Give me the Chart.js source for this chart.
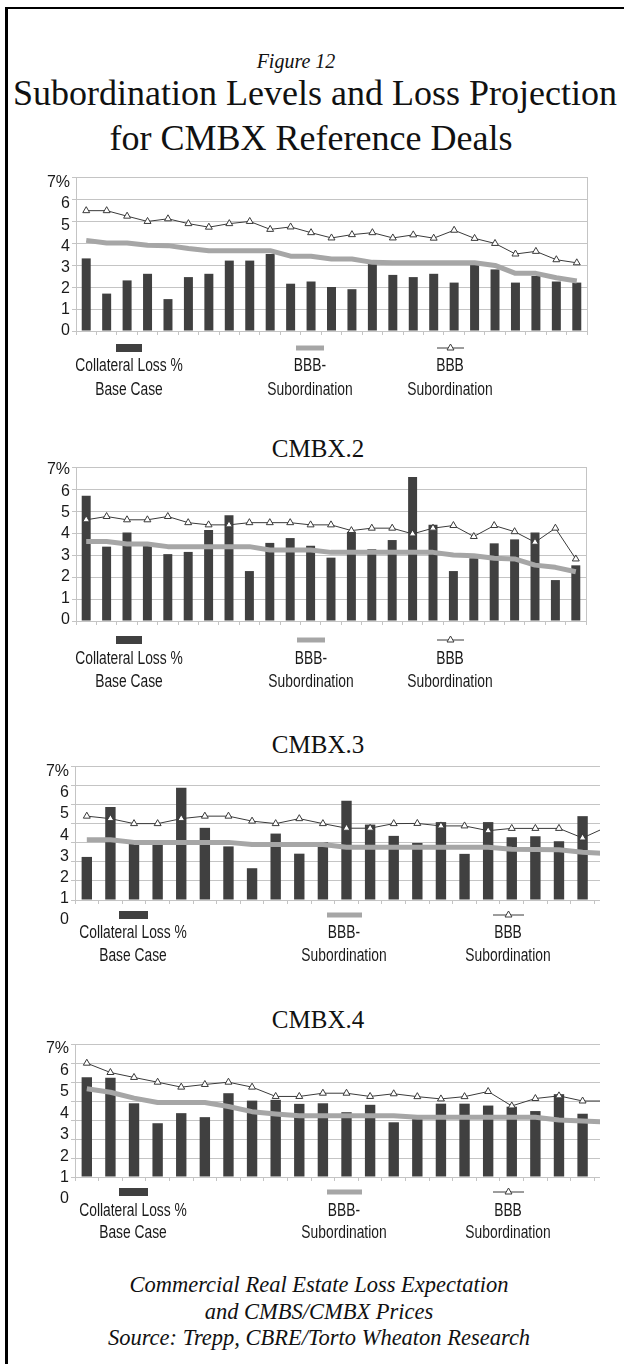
<!DOCTYPE html>
<html lang="en">
<head>
<meta charset="utf-8">
<title>Subordination Levels and Loss Projection for CMBX Reference Deals</title>
<script src="https://cdn.jsdelivr.net/npm/chart.js@4.4.1/dist/chart.umd.min.js"></script>
<style>
  html, body { margin: 0; padding: 0; background: #fff; }
  #page { position: relative; width: 624px; height: 1364px; overflow: hidden; background: #fff; }
  .rule-top { position: absolute; left: 5px; top: 7px; width: 619px; height: 2px; background: #000; }
  .rule-left { position: absolute; left: 5px; top: 7px; width: 3px; height: 1357px; background: #000; }
  .line { position: absolute; white-space: nowrap; line-height: 1; color: #111; text-align: center; transform-origin: 50% 50%; }
  .serif { font-family: 'Liberation Serif', 'DejaVu Serif', serif; }
  .it { font-style: italic; }
  .cond { font-family: 'Liberation Sans', 'DejaVu Sans', sans-serif; color: #1a1a1a; transform: scaleX(0.79); }
</style>
</head>
<body>
<div id="page">
  <div class="rule-top"></div>
  <div class="rule-left"></div>
</div>
<script>
// ---- deals (x categories, not drawn as labels) ----
const deals25 = ['1','2','3','4','5','6','7','8','9','10','11','12','13','14','15','16','17','18','19','20','21','22','23','24','25'];
const deals23 = ['1','2','3','4','5','6','7','8','9','10','11','12','13','14','15','16','17','18','19','20','21','22','23'];

// ---- series names (legend, two lines each) ----
const lossName = ['Collateral Loss %', 'Base Case'];
const bbbMinusName = ['BBB-', 'Subordination'];
const bbbName = ['BBB', 'Subordination'];

// ---- y axis ticks ----
const yTickValues = [0, 1, 2, 3, 4, 5, 6, 7];
const yTickLabels = ['0', '1', '2', '3', '4', '5', '6', '7%'];

// ---- CMBX.1 ----
const cmbx1Loss = [3.3, 1.7, 2.3, 2.6, 1.45, 2.45, 2.6, 3.2, 3.2, 3.5, 2.15, 2.25, 2.0, 1.9, 3.05, 2.55, 2.45, 2.6, 2.2, 3.0, 2.8, 2.2, 2.5, 2.25, 2.2];
const cmbx1BBBm = [4.12, 4.0, 4.0, 3.9, 3.88, 3.75, 3.65, 3.65, 3.65, 3.65, 3.4, 3.4, 3.27, 3.27, 3.12, 3.1, 3.1, 3.1, 3.1, 3.1, 2.98, 2.62, 2.62, 2.42, 2.27];
const cmbx1BBB = [5.47, 5.47, 5.22, 4.98, 5.1, 4.88, 4.72, 4.88, 4.98, 4.62, 4.73, 4.47, 4.23, 4.38, 4.47, 4.23, 4.37, 4.22, 4.58, 4.21, 3.98, 3.5, 3.62, 3.24, 3.1];

// ---- CMBX.2 ----
const cmbx2Loss = [5.69, 3.38, 4.02, 3.56, 3.04, 3.14, 4.14, 4.81, 2.27, 3.55, 3.77, 3.42, 2.88, 4.06, 3.26, 3.68, 6.54, 4.37, 2.27, 2.85, 3.53, 3.71, 4.02, 1.86, 2.53];
const cmbx2BBBm = [3.61, 3.61, 3.5, 3.5, 3.38, 3.38, 3.38, 3.38, 3.38, 3.23, 3.23, 3.23, 3.12, 3.12, 3.12, 3.12, 3.12, 3.12, 3.0, 2.97, 2.85, 2.82, 2.54, 2.44, 2.24];
const cmbx2BBB = [4.6, 4.75, 4.6, 4.6, 4.75, 4.47, 4.37, 4.37, 4.47, 4.47, 4.47, 4.37, 4.37, 4.11, 4.22, 4.22, 3.96, 4.22, 4.34, 3.84, 4.34, 4.06, 3.58, 4.22, 2.82];

// ---- CMBX.3 ----
const cmbx3Loss = [2.25, 4.86, 2.97, 2.97, 5.86, 3.77, 2.8, 1.66, 3.47, 2.42, 3.03, 5.18, 3.94, 3.35, 2.98, 4.07, 2.41, 4.07, 3.28, 3.33, 3.07, 4.38, null];
const cmbx3BBBm = [3.15, 3.15, 3.01, 3.01, 3.01, 3.01, 3.01, 2.9, 2.9, 2.9, 2.9, 2.76, 2.76, 2.76, 2.76, 2.76, 2.76, 2.76, 2.65, 2.64, 2.62, 2.5, 2.43];
const cmbx3BBB = [4.38, 4.25, 3.99, 3.99, 4.25, 4.38, 4.38, 4.12, 3.99, 4.25, 3.99, 3.75, 3.75, 3.99, 4.0, 3.87, 3.87, 3.62, 3.74, 3.74, 3.74, 3.24, 3.8];

// ---- CMBX.4 ----
const cmbx4Loss = [5.25, 5.22, 3.88, 2.83, 3.36, 3.15, 4.41, 4.02, 4.06, 3.85, 3.88, 3.41, 3.8, 2.88, 3.1, 3.86, 3.86, 3.76, 3.7, 3.47, 4.36, 3.33, null];
const cmbx4BBBm = [4.64, 4.46, 4.15, 3.92, 3.92, 3.92, 3.71, 3.44, 3.32, 3.22, 3.22, 3.22, 3.22, 3.22, 3.15, 3.15, 3.15, 3.15, 3.15, 3.15, 3.0, 2.95, 2.9];
const cmbx4BBB = [5.99, 5.5, 5.24, 4.99, 4.73, 4.87, 4.99, 4.73, 4.24, 4.24, 4.41, 4.41, 4.24, 4.38, 4.23, 4.11, 4.23, 4.5, 3.74, 4.13, 4.27, 4.0, 4.0];

// ---- styling ----
const GRID = '#c4c4c4';
const BAR = '#404040';
const BBBM_COLOR = '#a6a6a6';
const BBB_COLOR = '#3a3a3a';
const TEXT = '#1a1a1a';
const SANS = "'Liberation Sans', 'DejaVu Sans', sans-serif";
const SERIF_BASE = 0.838;   // baseline offset (em) of Liberation Serif at line-height 1
const SANS_BASE = 0.847;    // same for Liberation Sans

const page = document.getElementById('page');

function addText(text, cx, baseline, size, cls, ratio) {
  const d = document.createElement('div');
  d.className = 'line ' + cls;
  d.textContent = text;
  d.style.fontSize = size + 'px';
  d.style.width = '600px';
  d.style.left = (cx - 300) + 'px';
  d.style.top = (baseline - ratio * size) + 'px';
  page.appendChild(d);
  return d;
}

// headings
addText('Figure 12', 296, 68, 20, 'serif it', SERIF_BASE);
addText('Subordination Levels and Loss Projection', 313, 105, 36, 'serif', SERIF_BASE);
addText('for CMBX Reference Deals', 311, 150, 36, 'serif', SERIF_BASE);
addText('CMBX.2', 318, 457, 25, 'serif', SERIF_BASE);
addText('CMBX.3', 318, 753, 25, 'serif', SERIF_BASE);
addText('CMBX.4', 318, 1028, 25, 'serif', SERIF_BASE);
addText('Commercial Real Estate Loss Expectation', 319, 1293, 22.5, 'serif it', SERIF_BASE);
addText('and CMBS/CMBX Prices', 319, 1320, 22.5, 'serif it', SERIF_BASE);
addText('Source: Trepp, CBRE/Torto Wheaton Research', 319, 1346, 22.5, 'serif it', SERIF_BASE);

// per-panel placement
const panels = [
  { labels: deals25, loss: cmbx1Loss, bbbm: cmbx1BBBm, bbb: cmbx1BBB,
    boxTop: 160, boxH: 190, clip: 624, areaTop: 177, areaBottom: 331, areaLeft: 76, areaRight: 587,
    label0: 330.5, label7: 183, legendX: [129, 310, 450], markerW: [26, 28, 27], markerY: 348, textBase: [372, 396] },
  { labels: deals25, loss: cmbx2Loss, bbbm: cmbx2BBBm, bbb: cmbx2BBB,
    boxTop: 450, boxH: 190, clip: 624, areaTop: 467, areaBottom: 621, areaLeft: 76, areaRight: 586,
    label0: 619.5, label7: 470, legendX: [129, 311, 450], markerW: [26, 28, 27], markerY: 640, textBase: [665, 688] },
  { labels: deals23, loss: cmbx3Loss, bbbm: cmbx3BBBm, bbb: cmbx3BBB,
    boxTop: 750, boxH: 190, clip: 600, areaTop: 766, areaBottom: 900, areaLeft: 75, areaRight: 618,
    label0: 920, label7: 771.5, legendX: [133, 344, 508], markerW: [29, 35, 31], markerY: 915, textBase: [939, 962] },
  { labels: deals23, loss: cmbx4Loss, bbbm: cmbx4BBBm, bbb: cmbx4BBB,
    boxTop: 1028, boxH: 190, clip: 600, areaTop: 1044, areaBottom: 1177, areaLeft: 75, areaRight: 618,
    label0: 1199, label7: 1049, legendX: [133, 344, 508], markerW: [29, 35, 31], markerY: 1192, textBase: [1217, 1239] }
];

function buildLegend(chart, P) {
  const NS = 'http://www.w3.org/2000/svg';
  // bars first, then BBB-, then BBB
  const order = [2, 1, 0];
  order.forEach((di, k) => {
    const ds = chart.data.datasets[di];
    const cx = P.legendX[k];
    const w = P.markerW[k];
    const svg = document.createElementNS(NS, 'svg');
    svg.setAttribute('width', w + 12);
    svg.setAttribute('height', 16);
    svg.style.cssText = `position:absolute;left:${cx - (w + 12) / 2}px;top:${P.markerY - 8}px;overflow:visible;`;
    const x0 = 6, x1 = 6 + w, ym = 8;
    if (ds.type === 'bar') {
      const r = document.createElementNS(NS, 'rect');
      r.setAttribute('x', x0); r.setAttribute('y', ym - 4);
      r.setAttribute('width', w); r.setAttribute('height', 8);
      r.setAttribute('fill', ds.backgroundColor);
      svg.appendChild(r);
    } else {
      const l = document.createElementNS(NS, 'line');
      l.setAttribute('x1', x0); l.setAttribute('x2', x1);
      l.setAttribute('y1', ym); l.setAttribute('y2', ym);
      l.setAttribute('stroke', ds.borderColor);
      l.setAttribute('stroke-width', ds.borderWidth);
      svg.appendChild(l);
      if (ds.pointRadius > 0) {
        const c = (x0 + x1) / 2, r = ds.pointRadius;
        const t = document.createElementNS(NS, 'polygon');
        t.setAttribute('points', `${c},${ym - r} ${c - r * 0.866},${ym + r * 0.5} ${c + r * 0.866},${ym + r * 0.5}`);
        t.setAttribute('fill', ds.pointBackgroundColor);
        t.setAttribute('stroke', ds.pointBorderColor);
        t.setAttribute('stroke-width', ds.pointBorderWidth);
        svg.appendChild(t);
      }
    }
    page.appendChild(svg);
    ds.label.forEach((txt, li) => {
      addText(txt, cx, P.textBase[li], 17.5, 'cond', SANS_BASE);
    });
  });
}

panels.forEach(P => {
  const wrap = document.createElement('div');
  wrap.style.cssText = `position:absolute;left:0;top:${P.boxTop}px;width:${P.clip}px;height:${P.boxH}px;overflow:hidden;`;
  const canvas = document.createElement('canvas');
  canvas.width = 624;
  canvas.height = P.boxH;
  canvas.style.cssText = `position:absolute;left:0;top:0;width:624px;height:${P.boxH}px;`;
  wrap.appendChild(canvas);
  page.appendChild(wrap);

  // the tick-label axis is laid over the same chart area; its range puts
  // each label at the printed height
  const areaH = P.areaBottom - P.areaTop;
  const range = 7 * areaH / (P.label0 - P.label7);
  const lMin = (P.label0 - P.areaBottom) * range / areaH;

  const chart = new Chart(canvas, {
    type: 'bar',
    data: {
      labels: P.labels,
      datasets: [
        { type: 'line', label: bbbName, data: P.bbb, borderColor: BBB_COLOR, borderWidth: 1,
          pointStyle: 'triangle', pointRadius: 4, pointBackgroundColor: '#ffffff',
          pointBorderColor: BBB_COLOR, pointBorderWidth: 1, tension: 0, order: 0 },
        { type: 'line', label: bbbMinusName, data: P.bbbm, borderColor: BBBM_COLOR, borderWidth: 5,
          pointRadius: 0, tension: 0, borderJoinStyle: 'round', order: 1 },
        { type: 'bar', label: lossName, data: P.loss, backgroundColor: BAR,
          barPercentage: 0.44, categoryPercentage: 1, order: 2 }
      ]
    },
    options: {
      responsive: false,
      animation: false,
      events: [],
      layout: { padding: { top: P.areaTop - P.boxTop, bottom: P.boxTop + P.boxH - P.areaBottom - 4, left: 0, right: 624 - P.areaRight } },
      plugins: { legend: { display: false }, tooltip: { enabled: false } },
      scales: {
        x: {
          type: 'category', offset: true,
          grid: { display: true, drawOnChartArea: false, drawTicks: true, tickLength: 4, color: GRID, offset: true },
          border: { display: true, color: GRID },
          ticks: { display: false },
          afterFit: s => { s.height = 4; }
        },
        y: {
          type: 'linear', position: 'left', min: 0, max: 7, weight: 0,
          grid: { color: GRID, drawTicks: true, tickLength: 4 },
          border: { display: true, color: GRID },
          ticks: { display: false, stepSize: 1, autoSkip: false },
          afterFit: s => { s.width = 4; }
        },
        yl: {
          type: 'linear', position: 'left', min: lMin, max: lMin + range, bounds: 'data', weight: 1,
          grid: { display: false, drawTicks: false },
          border: { display: false },
          ticks: {
            display: true, autoSkip: false, padding: 2, color: TEXT,
            font: { family: SANS, size: 16 },
            callback: v => yTickLabels[yTickValues.indexOf(v)]
          },
          afterBuildTicks: s => { s.ticks = yTickValues.map(v => ({ value: v })); },
          afterFit: s => { s.width = P.areaLeft - 4; }
        },
        yr: {
          type: 'linear', position: 'right', min: 0, max: 7,
          grid: { display: false },
          border: { display: true, color: GRID },
          ticks: { display: false },
          afterFit: s => { s.width = 0; }
        }
      }
    }
  });
  buildLegend(chart, P);
});
</script>
</body>
</html>
